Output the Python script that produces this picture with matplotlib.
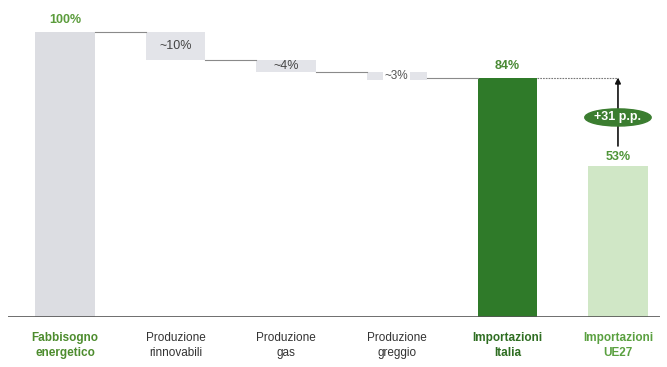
import matplotlib.pyplot as plt
from matplotlib.patches import Ellipse
from matplotlib import font_manager

categories = ["Fabbisogno\nenergetico", "Produzione\nrinnovabili", "Produzione\ngas",
              "Produzione\ngreggio", "Importazioni\nItalia", "Importazioni\nUE27"]
total_need = 100
steps = [-10, -4, -3]
step_labels = ["~10%", "~4%", "~3%"]
import_it = 84
import_eu = 53
gap_label = "+31 p.p."

names = {f.name for f in font_manager.fontManager.ttflist}
fam = "Liberation Sans Narrow" if "Liberation Sans Narrow" in names else "Liberation Sans"
plt.rcParams["font.family"] = [fam, "DejaVu Sans"]

grey_bar = "#dcdde2"
grey_step = "#e3e4e9"
dark_green = "#2f7a29"
light_green = "#d0e7c6"
txt_green = "#5b9c3c"

fig = plt.figure(figsize=(6.67, 3.67), dpi=100)
ax = fig.add_axes([8 / 667, 50 / 367, 652 / 667, 307 / 367])
ax.set_xlim(-0.515, 5.38)
ax.set_ylim(0, 107.7)
w = 0.54

# first bar: total need
ax.bar(0, total_need, width=w, color=grey_bar)
ax.annotate(f"{total_need}%", (0, total_need), xytext=(0, 4), textcoords="offset points",
            ha="center", va="bottom", fontsize=9, fontweight="bold", color=txt_green)

# floating steps
level = total_need
prev_right = w / 2
for i, (s, lab) in enumerate(zip(steps, step_labels), start=1):
    ax.plot([prev_right, i - w / 2], [level, level], color="#8a8a8a", lw=0.8)
    ax.bar(i, -s, bottom=level + s, width=w, color=grey_step)
    mid = level + s / 2
    if abs(s) < 4:
        ax.text(i, mid, lab, ha="center", va="center", fontsize=8.5, color="#555555",
                bbox=dict(boxstyle="square,pad=0.15", fc="white", ec="none"))
    else:
        ax.text(i, mid, lab, ha="center", va="center", fontsize=9, color="#444444")
    level += s
    prev_right = i + w / 2
ax.plot([prev_right, 4 - w / 2], [import_it, import_it], color="#8a8a8a", lw=0.8)

# imports
ax.bar(4, import_it, width=w, color=dark_green)
ax.annotate(f"{import_it}%", (4, import_it), xytext=(0, 4), textcoords="offset points",
            ha="center", va="bottom", fontsize=9, fontweight="bold", color="#4a8a35")
ax.bar(5, import_eu, width=w, color=light_green)
ax.annotate(f"{import_eu}%", (5, import_eu), xytext=(0, 2), textcoords="offset points",
            ha="center", va="bottom", fontsize=9, fontweight="bold", color="#4f9538")

# gap between Italy and EU27
ax.plot([4 + w / 2, 5], [import_it, import_it], color="#777777", lw=0.8, ls=(0, (1.5, 1)))
ax.annotate("", xy=(5, import_it), xytext=(5, import_eu + 7),
            arrowprops=dict(arrowstyle="-|>", color="#111111", lw=1.2, mutation_scale=8,
                            shrinkA=0, shrinkB=0))
mid_gap = (import_it + import_eu) / 2 + 1.5
ax.add_patch(Ellipse((5, mid_gap), 0.6, 6.0, color="#3b7d30", zorder=3))
ax.text(5, mid_gap, gap_label, ha="center", va="center", fontsize=9,
        fontweight="bold", color="white", zorder=4)

# axis and category labels
ax.axhline(0, color="#555555", lw=1.2)
for s in ax.spines.values():
    s.set_visible(False)
ax.set_yticks([])
ax.set_xticks(range(len(categories)))
ax.set_xticklabels(categories, fontsize=8.5, linespacing=1.3)
ax.tick_params(axis="x", length=0, pad=11)
label_style = {0: ("#4d8c2e", "bold"), 4: ("#2f6e22", "bold"), 5: ("#5aa040", "bold")}
for i, t in enumerate(ax.get_xticklabels()):
    c, fw = label_style.get(i, ("#333333", "normal"))
    t.set_color(c)
    t.set_fontweight(fw)

fig.savefig("out.png", dpi=100)
